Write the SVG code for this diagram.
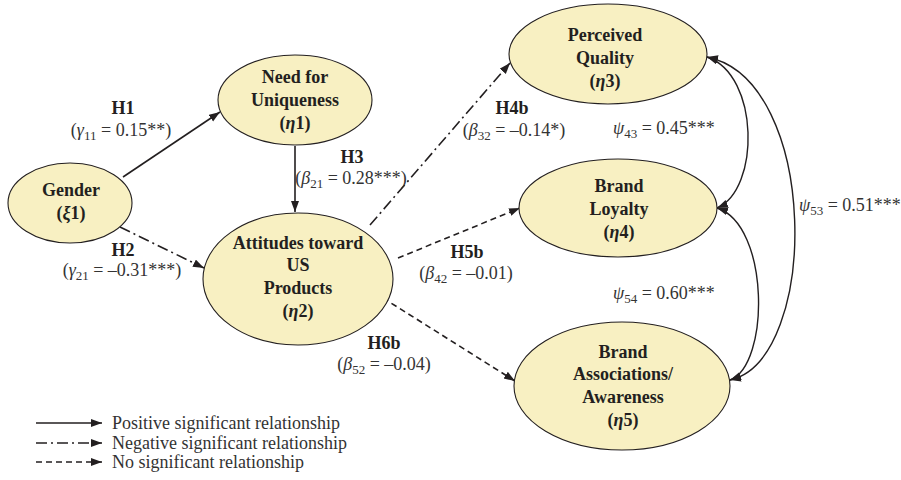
<svg xmlns="http://www.w3.org/2000/svg" width="901" height="480" viewBox="0 0 901 480">
<style>
.node ellipse{fill:#f8f0c2;stroke:#231f20;stroke-width:1.1}
.nt{font-family:"Liberation Serif","Times New Roman",serif;font-weight:bold;font-size:18px;fill:#231f20;text-anchor:middle}
.lb{font-family:"Liberation Serif","Times New Roman",serif;font-size:18px;fill:#333;text-anchor:middle}
.lg{font-family:"Liberation Serif","Times New Roman",serif;font-size:18px;fill:#333}
.ln{fill:none;stroke:#231f20;stroke-width:1.6}
.solid{marker-end:url(#ah)}
.dd{stroke-dasharray:11 4 2 4;marker-end:url(#ah)}
.da{stroke-dasharray:6 4;marker-end:url(#ah)}
.cv{fill:none;stroke:#231f20;stroke-width:1.4;marker-start:url(#ah2);marker-end:url(#ah2)}
.it{font-style:italic}
.sb{font-size:13px}
</style>
<defs>
<marker id="ah" markerUnits="userSpaceOnUse" markerWidth="12" markerHeight="10" refX="11" refY="4" orient="auto">
<path d="M0,0 L11,4 L0,8 z" fill="#231f20"/>
</marker>
<marker id="ah2" markerUnits="userSpaceOnUse" markerWidth="12" markerHeight="10" refX="11" refY="4" orient="auto-start-reverse">
<path d="M0,0 L11,4 L0,8 z" fill="#231f20"/>
</marker>
</defs>

<g id="connectors">
<line class="ln solid" x1="123" y1="177" x2="220" y2="112"/>
<line class="ln dd" x1="120" y1="227" x2="204" y2="268"/>
<line class="ln solid" x1="295" y1="146" x2="295" y2="212"/>
<line class="ln dd" x1="370" y1="225" x2="510" y2="63"/>
<line class="ln da" x1="398" y1="258" x2="520" y2="208"/>
<line class="ln da" x1="383" y1="298" x2="515" y2="381"/>
<path class="cv" d="M707,57 C760,75 760,190 717,208"/>
<path class="cv" d="M717,208 C770,225 770,365 730,380"/>
<path class="cv" d="M707,57 C820,80 820,360 730,380"/>
</g>

<g id="gender" class="node">
<ellipse cx="70" cy="203" rx="62" ry="40"/>
<text class="nt" x="71" y="196">Gender</text>
<text class="nt" x="71" y="219">(<tspan class="it">ξ</tspan>1)</text>
</g>
<g id="need" class="node">
<ellipse cx="295" cy="100" rx="77" ry="45"/>
<text class="nt" x="295" y="83">Need for</text>
<text class="nt" x="295" y="106">Uniqueness</text>
<text class="nt" x="295" y="129">(<tspan class="it">η</tspan>1)</text>
</g>
<g id="attitudes" class="node">
<ellipse cx="298" cy="279" rx="95" ry="66"/>
<text class="nt" x="298" y="249">Attitudes toward</text>
<text class="nt" x="298" y="271">US</text>
<text class="nt" x="298" y="294">Products</text>
<text class="nt" x="298" y="317">(<tspan class="it">η</tspan>2)</text>
</g>
<g id="quality" class="node">
<ellipse cx="608" cy="54" rx="99" ry="50"/>
<text class="nt" x="605" y="41">Perceived</text>
<text class="nt" x="605" y="64">Quality</text>
<text class="nt" x="605" y="87">(<tspan class="it">η</tspan>3)</text>
</g>
<g id="loyalty" class="node">
<ellipse cx="618" cy="208" rx="99" ry="49"/>
<text class="nt" x="619" y="192">Brand</text>
<text class="nt" x="619" y="215">Loyalty</text>
<text class="nt" x="619" y="238">(<tspan class="it">η</tspan>4)</text>
</g>
<g id="associations" class="node">
<ellipse cx="622" cy="386" rx="108" ry="64"/>
<text class="nt" x="623" y="358">Brand</text>
<text class="nt" x="623" y="380">Associations/</text>
<text class="nt" x="623" y="403">Awareness</text>
<text class="nt" x="623" y="426">(<tspan class="it">η</tspan>5)</text>
</g>

<g id="labels">
<text class="nt" x="123" y="114">H1</text>
<text class="lb" x="121" y="136">(<tspan class="it">γ</tspan><tspan class="sb" dy="4">11</tspan><tspan dy="-4"> = 0.15**)</tspan></text>
<text class="nt" x="123" y="256">H2</text>
<text class="lb" x="122" y="276">(<tspan class="it">γ</tspan><tspan class="sb" dy="4">21</tspan><tspan dy="-4"> = –0.31***)</tspan></text>
<text class="nt" x="352" y="163">H3</text>
<text class="lb" x="351" y="184">(<tspan class="it">β</tspan><tspan class="sb" dy="4">21</tspan><tspan dy="-4"> = 0.28***)</tspan></text>
<text class="nt" x="512" y="114">H4b</text>
<text class="lb" x="514" y="136">(<tspan class="it">β</tspan><tspan class="sb" dy="4">32</tspan><tspan dy="-4"> = –0.14*)</tspan></text>
<text class="nt" x="467" y="258">H5b</text>
<text class="lb" x="466" y="279">(<tspan class="it">β</tspan><tspan class="sb" dy="4">42</tspan><tspan dy="-4"> = –0.01)</tspan></text>
<text class="nt" x="384" y="349">H6b</text>
<text class="lb" x="384" y="370">(<tspan class="it">β</tspan><tspan class="sb" dy="4">52</tspan><tspan dy="-4"> = –0.04)</tspan></text>
<text class="lg" x="613" y="134"><tspan class="it">ψ</tspan><tspan class="sb" dy="4">43</tspan><tspan dy="-4"> = 0.45***</tspan></text>
<text class="lg" x="613" y="299"><tspan class="it">ψ</tspan><tspan class="sb" dy="4">54</tspan><tspan dy="-4"> = 0.60***</tspan></text>
<text class="lg" x="799" y="211"><tspan class="it">ψ</tspan><tspan class="sb" dy="4">53</tspan><tspan dy="-4"> = 0.51***</tspan></text>
</g>

<g id="legend">
<line class="ln solid" x1="36" y1="423" x2="102" y2="423"/>
<line class="ln dd" x1="36" y1="443" x2="102" y2="443"/>
<line class="ln da" x1="36" y1="462" x2="102" y2="462"/>
<text class="lg" x="112" y="429">Positive significant relationship</text>
<text class="lg" x="112" y="449">Negative significant relationship</text>
<text class="lg" x="112" y="468">No significant relationship</text>
</g>
</svg>
